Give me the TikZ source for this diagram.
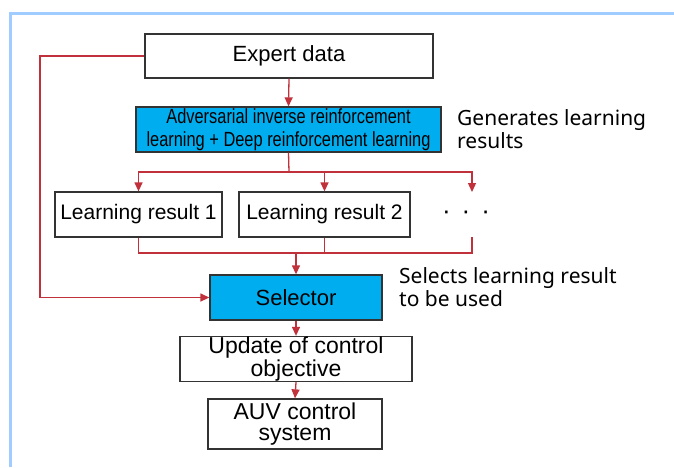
\documentclass[tikz,border=0pt]{standalone}
\usepackage{fontspec}
\setmainfont{Liberation Sans}
\newfontfamily\narrowfont[FakeStretch=0.8]{Liberation Sans}
\newfontfamily\notefont{Noto Sans}
\usetikzlibrary{arrows.meta}
\definecolor{flowred}{HTML}{C0313C}
\definecolor{boxcyan}{HTML}{00AEEF}
\definecolor{framebl}{HTML}{A0CCFF}
\begin{document}
\begin{tikzpicture}[x=1pt,y=-1pt,
  box/.style={draw=black!80, line width=1.3pt, fill=white, inner sep=0pt,
    align=center, font=\fontsize{21}{21}\selectfont},
  cyanbox/.style={box, fill=boxcyan},
  flow/.style={draw=flowred, line width=1.3pt},
  flowarrow/.style={flow, -{Triangle[length=9pt,width=8pt]}},
  note/.style={align=left, inner sep=0pt, font=\notefont\fontsize{21}{23}\selectfont}
]
\useasboundingbox (0,0) rectangle (674,467);
\fill[white] (0,0) rectangle (674,467);
\draw[framebl, line width=3pt] (10,467) -- (10,13.5) -- (674,13.5);

\node[box, minimum width=288, minimum height=44, font=\fontsize{22}{22}\selectfont] (expert) at (289,56) {Expert data};
\node[cyanbox, minimum width=305, minimum height=45,
  font=\narrowfont\fontsize{20.5}{23}\selectfont] (airl) at (288.5,129.5)
  {Adversarial inverse reinforcement\\learning + Deep reinforcement learning};
\node[box, minimum width=167, minimum height=45] (lr1) at (138.5,214.5) {Learning result 1};
\node[box, minimum width=171, minimum height=45] (lr2) at (324.5,214.5) {Learning result 2};
\node[inner sep=0pt, font=\fontsize{26}{26}\selectfont] (dots) at (466,215) {·\hspace{11pt}·\hspace{11pt}·};
\node[cyanbox, minimum width=172, minimum height=45, font=\fontsize{22}{22}\selectfont] (sel) at (296,297.5) {Selector};
\node[box, minimum width=232, minimum height=45, font=\fontsize{23}{21}\selectfont] (upd) at (296,359) {Update of control\\objective};
\node[box, minimum width=174, minimum height=50, font=\fontsize{23}{21}\selectfont] (auv) at (295,424) {AUV control\\system};

\node[note, anchor=north west] (gen) at (457,109) {Generates learning\\results};
\node[note, anchor=north west] (selnote) at (399,267) {Selects learning result\\to be used};

\coordinate (split) at (289,172);
\coordinate (r3top) at (472,192);
\coordinate (r3bot) at (472,237);
\coordinate (merge) at (296,253);
\coordinate (fbtop) at (40,56);

\draw[flowarrow] (expert.south) -- (airl.north);
\draw[flow] (airl.south) -- (split);
\draw[flowarrow] (split) -| (lr1.north);
\draw[flowarrow] (split) -| (lr2.north);
\draw[flowarrow] (split) -| (r3top);
\draw[flow] (lr1.south) |- (merge);
\draw[flow] (lr2.south) |- (merge);
\draw[flow] (r3bot) |- (merge);
\draw[flowarrow] (merge) -- (sel.north);
\draw[flowarrow] (expert.west) -- (fbtop) |- (sel.west);
\draw[flowarrow] (sel.south) -- (upd.north);
\draw[flowarrow] (upd.south) -- (auv.north);
\end{tikzpicture}
\end{document}
